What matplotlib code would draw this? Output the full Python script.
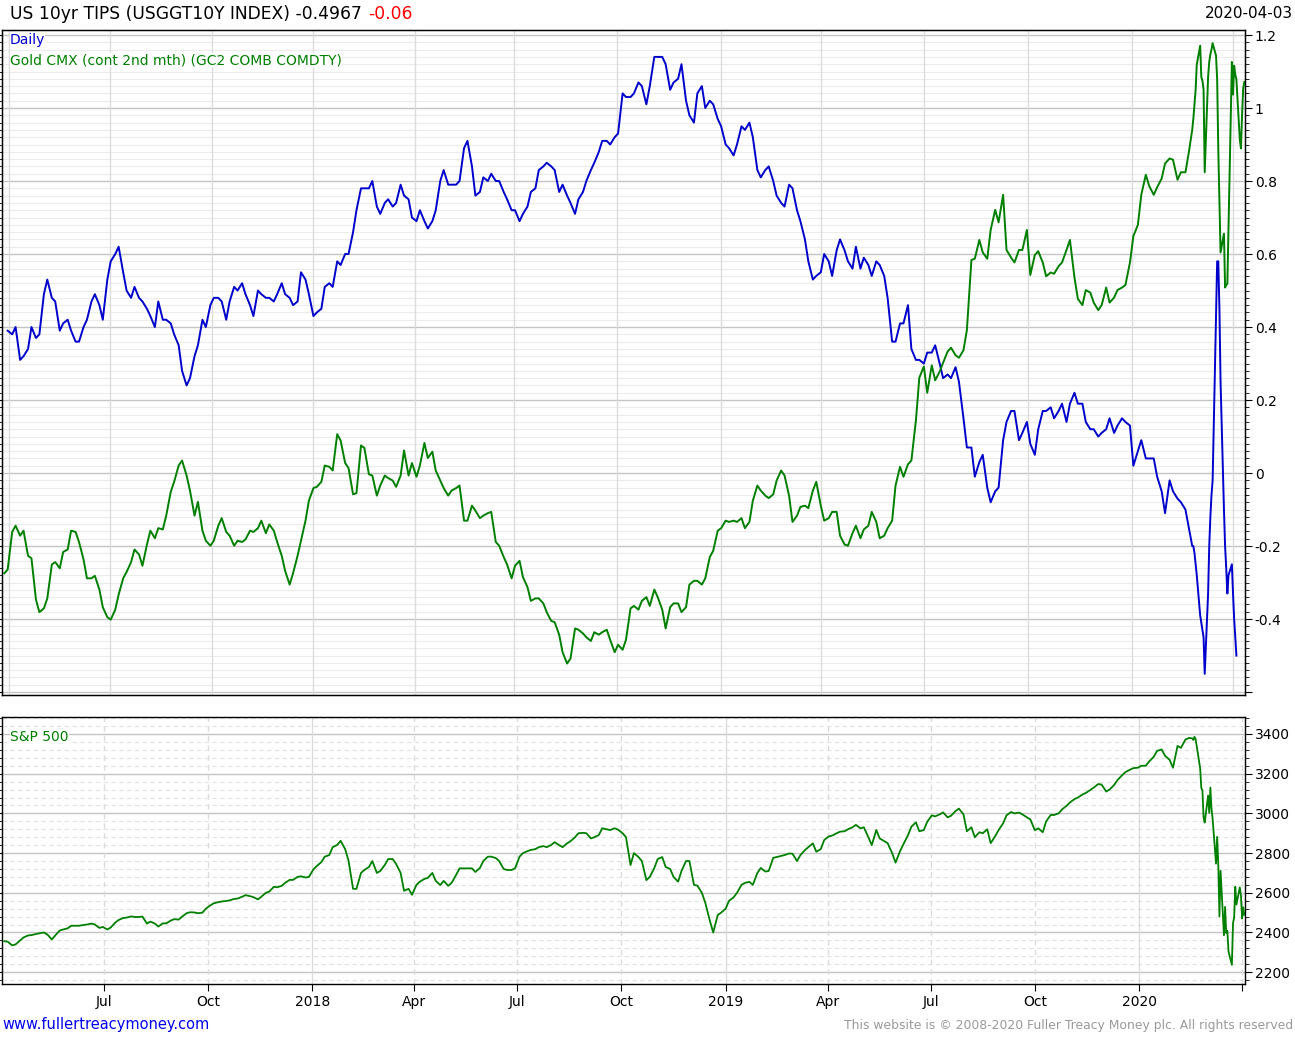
import matplotlib
matplotlib.use('Agg')
import matplotlib.pyplot as plt
import numpy as np
import pandas as pd
from matplotlib.ticker import MultipleLocator, FuncFormatter

plt.rcParams['font.family'] = ['DejaVu Sans']

# ------------------------------------------------------------
# data
# Tuesday and Friday readings up to mid Feb 2020, then daily
# ------------------------------------------------------------
tue = pd.date_range('2017-04-04', '2020-02-11', freq='W-TUE')
fri = pd.date_range('2017-04-07', '2020-02-14', freq='W-FRI')
daily = pd.bdate_range('2020-02-17', '2020-04-03')

nan = float('nan')

# US 10yr TIPS real yield (%)
tips_tue = [
    nan, 0.38, 0.31, 0.34, 0.37, 0.49, 0.48, 0.39, 0.42, 0.36,
    0.40, 0.47, 0.46, 0.53, 0.60, 0.55, 0.48, 0.48, 0.45, 0.40,
    0.42, 0.41, 0.35, 0.24, 0.32, 0.42, 0.46, 0.48, 0.42, 0.51,
    0.52, 0.46, 0.50, 0.48, 0.47, 0.52, 0.48, 0.47, 0.53, 0.43,
    0.45, 0.52, 0.58, 0.60, 0.66, 0.78, 0.78, 0.73, 0.74, 0.73,
    0.79, 0.75, 0.69, 0.69, 0.69, 0.80, 0.79, 0.79, 0.89, 0.84,
    0.77, 0.80, 0.80, 0.77, 0.72, 0.69, 0.73, 0.78, 0.84, 0.84,
    0.77, 0.76, 0.71, 0.77, 0.83, 0.88, 0.91, 0.92, 1.04, 1.03,
    1.07, 1.01, 1.14, 1.14, 1.05, 1.08, 1.02, 0.96, 1.06, 1.02,
    0.97, 0.90, 0.87, 0.95, 0.96, 0.83, 0.83, 0.80, 0.74, 0.79,
    0.72, 0.64, 0.53, 0.55, 0.58, 0.61, 0.61, 0.56, 0.56, 0.57,
    0.58, 0.54, 0.36, 0.41, 0.46, 0.31, 0.30, 0.33, 0.30, 0.27,
    0.29, 0.15, 0.07, 0.03, -0.04, -0.05, 0.09, 0.17, 0.09, 0.14,
    0.05, 0.17, 0.18, 0.17, 0.14, 0.22, 0.19, 0.12, 0.10, 0.12,
    0.11, 0.15, 0.13, 0.06, 0.04, 0.04, -0.05, -0.02, -0.07, -0.10,
]
tips_fri = [
    0.39, 0.40, 0.32, 0.40, 0.38, 0.53, 0.47, 0.41, 0.39, 0.36,
    0.42, 0.49, 0.42, 0.58, 0.62, 0.50, 0.51, 0.47, 0.43, 0.47,
    0.42, 0.38, 0.28, 0.26, 0.35, 0.40, 0.48, 0.47, 0.47, 0.50,
    0.49, 0.43, 0.49, 0.48, 0.49, 0.49, 0.46, 0.55, 0.49, 0.44,
    0.51, 0.51, 0.57, 0.60, 0.72, 0.78, 0.80, 0.71, 0.75, 0.74,
    0.76, 0.70, 0.72, 0.67, 0.72, 0.83, 0.79, 0.80, 0.91, 0.76,
    0.81, 0.82, 0.80, 0.75, 0.72, 0.71, 0.77, 0.83, 0.85, 0.83,
    0.79, 0.74, 0.75, 0.80, 0.85, 0.91, 0.90, 0.93, 1.03, 1.04,
    1.06, 1.06, 1.14, 1.12, 1.07, 1.12, 0.98, 1.04, 1.00, 1.01,
    0.95, 0.89, 0.90, 0.94, 0.92, 0.81, 0.84, 0.76, 0.73, 0.78,
    0.69, 0.58, 0.54, 0.60, 0.54, 0.64, 0.58, 0.62, 0.59, 0.54,
    0.57, 0.48, 0.36, 0.41, 0.34, 0.31, 0.33, 0.35, 0.26, 0.26,
    0.25, 0.07, -0.01, 0.05, -0.08, -0.04, 0.14, 0.17, 0.11, 0.08,
    0.12, 0.17, 0.15, 0.19, 0.19, 0.19, 0.14, 0.12, 0.11, 0.15,
    0.13, 0.14, 0.02, 0.09, 0.04, -0.01, -0.11, -0.05, -0.08, -0.15,
]
# Feb 17 - Mar 27 2020 (series stops there)
tips_daily = [
    -0.20, -0.20, -0.22, -0.25, -0.28,
    -0.39, -0.41, -0.43, -0.45, -0.55,
    -0.33, -0.20, -0.12, -0.06, -0.02,
    0.44, 0.58, 0.58, 0.45, 0.25,
    -0.10, -0.20, -0.26, -0.33, -0.28,
    -0.25, -0.33, -0.40, -0.45, -0.50,
]

# Gold CMX 2nd month (USD/oz)
gold_tue = [
    1254, 1287, 1284, 1268, 1233, 1226, 1261, 1258, 1273, 1287,
    1265, 1250, 1241, 1219, 1225, 1250, 1263, 1269, 1277, 1282,
    1289, 1319, 1340, 1332, 1300, 1288, 1276, 1292, 1287, 1276,
    1279, 1288, 1290, 1286, 1288, 1268, 1245, 1268, 1296, 1322,
    1327, 1339, 1365, 1342, 1317, 1356, 1333, 1316, 1332, 1328,
    1332, 1332, 1331, 1358, 1351, 1328, 1316, 1322, 1296, 1308,
    1298, 1302, 1279, 1267, 1250, 1264, 1243, 1234, 1230, 1216,
    1205, 1182, 1210, 1206, 1200, 1205, 1209, 1191, 1193, 1226,
    1225, 1235, 1241, 1225, 1227, 1230, 1227, 1248, 1245, 1267,
    1288, 1296, 1296, 1298, 1295, 1324, 1316, 1317, 1336, 1316,
    1300, 1308, 1320, 1308, 1298, 1303, 1277, 1286, 1282, 1292,
    1295, 1284, 1296, 1339, 1341, 1376, 1419, 1420, 1415, 1431,
    1428, 1432, 1504, 1520, 1505, 1544, 1556, 1506, 1512, 1528,
    1508, 1502, 1494, 1499, 1512, 1490, 1468, 1478, 1464, 1482,
    1474, 1482, 1502, 1532, 1572, 1556, 1569, 1585, 1568, 1574,
]
gold_fri = [
    1257, 1292, 1288, 1266, 1223, 1234, 1263, 1271, 1288, 1279,
    1250, 1252, 1227, 1217, 1237, 1255, 1273, 1260, 1288, 1290,
    1300, 1327, 1344, 1320, 1311, 1280, 1280, 1298, 1284, 1280,
    1281, 1287, 1296, 1293, 1279, 1256, 1254, 1280, 1312, 1323,
    1340, 1336, 1360, 1338, 1318, 1354, 1332, 1324, 1330, 1323,
    1352, 1342, 1340, 1346, 1336, 1322, 1320, 1324, 1296, 1304,
    1300, 1303, 1276, 1261, 1260, 1251, 1232, 1234, 1223, 1215,
    1191, 1186, 1209, 1203, 1207, 1207, 1201, 1197, 1201, 1228,
    1232, 1228, 1235, 1210, 1230, 1223, 1245, 1248, 1250, 1272,
    1290, 1295, 1295, 1290, 1312, 1320, 1314, 1328, 1332, 1295,
    1307, 1306, 1327, 1296, 1303, 1284, 1276, 1292, 1289, 1303,
    1282, 1290, 1324, 1331, 1344, 1410, 1398, 1408, 1422, 1434,
    1426, 1448, 1505, 1510, 1528, 1534, 1512, 1502, 1512, 1492,
    1511, 1491, 1493, 1502, 1520, 1473, 1480, 1470, 1468, 1470,
    1480, 1484, 1523, 1556, 1563, 1562, 1581, 1584, 1574, 1590,
]
gold_daily = [
    1608, 1617, 1628, 1640, 1660,
    1675, 1650, 1647, 1640, 1574,
    1650, 1662, 1668, 1672, 1677,
    1667, 1648, 1592, 1552, 1510,
    1525, 1482, 1484, 1485, 1530,
    1662, 1636, 1659, 1652, 1648,
    1600, 1593, 1620, 1641, 1646,
]

# S&P 500
spx_tue = [
    2356, 2335, 2360, 2385, 2392, 2400, 2365, 2410, 2421, 2434,
    2438, 2445, 2423, 2415, 2450, 2473, 2481, 2478, 2445, 2445,
    2446, 2460, 2465, 2497, 2501, 2500, 2537, 2553, 2559, 2569,
    2580, 2583, 2567, 2600, 2630, 2635, 2665, 2680, 2677, 2718,
    2755, 2790, 2841, 2820, 2620, 2700, 2730, 2700, 2740, 2770,
    2700, 2620, 2640, 2670, 2700, 2639, 2635, 2690, 2723, 2723,
    2725, 2782, 2775, 2720, 2715, 2782, 2810, 2820, 2835, 2841,
    2840, 2849, 2880, 2902, 2874, 2891, 2920, 2925, 2900, 2740,
    2780, 2664, 2725, 2780, 2720, 2656, 2760, 2640, 2600, 2460,
    2488, 2520, 2577, 2640, 2655, 2700, 2707, 2776, 2786, 2798,
    2760, 2815, 2849, 2820, 2884, 2900, 2910, 2930, 2925, 2880,
    2916, 2860, 2800, 2810, 2890, 2955, 2916, 2990, 2995, 2980,
    3012, 2995, 2930, 2905, 2920, 2885, 2950, 3007, 3004, 2980,
    2915, 2905, 2992, 3000, 3038, 3072, 3095, 3118, 3148, 3110,
    3143, 3192, 3220, 3230, 3240, 3285, 3322, 3270, 3340, 3372,
]
spx_fri = [
    2354, 2340, 2375, 2387, 2396, 2390, 2385, 2415, 2434, 2434,
    2440, 2440, 2428, 2425, 2463, 2475, 2478, 2480, 2455, 2430,
    2446, 2467, 2480, 2502, 2497, 2520, 2547, 2556, 2562, 2571,
    2588, 2578, 2580, 2606, 2628, 2650, 2665, 2683, 2680, 2735,
    2782, 2830, 2862, 2762, 2620, 2715, 2760, 2710, 2770, 2745,
    2610, 2590, 2656, 2675, 2660, 2660, 2650, 2723, 2723, 2705,
    2760, 2782, 2760, 2715, 2723, 2800, 2816, 2830, 2830, 2855,
    2830, 2860, 2900, 2900, 2880, 2925, 2916, 2918, 2880, 2800,
    2760, 2680, 2770, 2730, 2680, 2710, 2760, 2636, 2550, 2400,
    2500, 2560, 2600, 2650, 2640, 2725, 2710, 2780, 2790, 2797,
    2790, 2830, 2807, 2866, 2888, 2908, 2920, 2942, 2930, 2840,
    2874, 2850, 2752, 2845, 2933, 2910, 2958, 2985, 3005, 2988,
    3024, 2910, 2880, 2900, 2850, 2916, 2990, 3000, 2995, 2970,
    2925, 2960, 2992, 3020, 3055, 3080, 3103, 3130, 3145, 3120,
    3168, 3208, 3228, 3240, 3262, 3315, 3290, 3230, 3330, 3380,
]
spx_daily = [
    3378, 3370, 3386, 3373, 3338,
    3226, 3128, 3116, 2979, 2954,
    3090, 3003, 3130, 3023, 2972,
    2747, 2882, 2741, 2481, 2711,
    2386, 2529, 2398, 2409, 2305,
    2237, 2447, 2476, 2630, 2541,
    2627, 2585, 2471, 2527, 2489,
]

quarter_ticks = pd.date_range('2017-04-01', '2020-04-01', freq='QS-JAN')
quarter_labels = ['', 'Jul', 'Oct', '2018', 'Apr', 'Jul', 'Oct', '2019',
                  'Apr', 'Jul', 'Oct', '2020', '']
top_vgrid = pd.to_datetime([
    '2017-04-08', '2017-07-06', '2017-10-04', '2018-01-02', '2018-04-02',
    '2018-06-28', '2018-09-27', '2018-12-28', '2019-03-26', '2019-06-25',
    '2019-09-25', '2019-12-26', '2020-03-24'])


def series(v_tue, v_fri, v_daily):
    s = pd.concat([pd.Series(v_tue, index=tue),
                   pd.Series(v_fri, index=fri),
                   pd.Series(v_daily, index=daily[:len(v_daily)])])
    return s.sort_index().dropna()


tips = series(tips_tue, tips_fri, tips_daily)
gold = series(gold_tue, gold_fri, gold_daily)
spx = series(spx_tue, spx_fri, spx_daily)

BLUE = '#0000CC'
GREEN = '#008000'
MAJ = '#c4c4c4'
MIN = '#ececec'

W, H = 1295, 1040


def box(x0, y0, x1, y1):
    return [x0 / W, 1 - y1 / H, (x1 - x0) / W, (y1 - y0) / H]


fig = plt.figure(figsize=(W / 100, H / 100), dpi=100)
ax = fig.add_axes(box(2, 30, 1245, 695))
ax2 = fig.add_axes(box(2, 717, 1245, 984), sharex=ax)
axg = ax.twinx()

x0, x1 = pd.Timestamp('2017-04-02'), pd.Timestamp('2020-04-03 14:00')

# ---------------- top panel ----------------
ax.set_axisbelow(True)
ax.plot(tips.index, tips.values, color=BLUE, lw=1.4, zorder=3)
axg.plot(gold.index, gold.values, color=GREEN, lw=1.4)
ax.set_ylim(-0.608, 1.2137)
axg.set_ylim(1156.9, 1687.5)
axg.yaxis.set_visible(False)


def tips_fmt(v, pos):
    v = round(v, 2) + 0
    return '' if v < -0.5 else f'{v:g}'


ax.yaxis.set_major_locator(MultipleLocator(0.2))
ax.yaxis.set_minor_locator(MultipleLocator(0.02))
ax.yaxis.set_major_formatter(FuncFormatter(tips_fmt))
ax.tick_params(axis='y', which='both', left=True, right=True,
               labelleft=False, labelright=True, direction='out',
               labelsize=10, pad=2)
ax.tick_params(axis='y', which='major', length=5)
ax.tick_params(axis='y', which='minor', length=3)
ax.tick_params(axis='x', which='both', bottom=False, labelbottom=False)
ax.grid(which='major', axis='y', color=MAJ, lw=1.0)
ax.grid(which='minor', axis='y', color=MIN, lw=0.8)
for d in top_vgrid:
    ax.axvline(d, color='#dcdcdc', lw=1.0, zorder=1)

ax.text(8 / 1243, 1 - 10 / 665, 'Daily', transform=ax.transAxes,
        color=BLUE, fontsize=10, va='center', ha='left',
        bbox=dict(facecolor='white', edgecolor='none', pad=0), zorder=5)
ax.text(8 / 1243, 1 - 30 / 665, 'Gold CMX (cont 2nd mth) (GC2 COMB COMDTY)',
        transform=ax.transAxes, color=GREEN, fontsize=10, va='center',
        ha='left', bbox=dict(facecolor='white', edgecolor='none', pad=0),
        zorder=5)

# ---------------- bottom panel ----------------
ax2.set_axisbelow(True)
ax2.plot(spx.index, spx.values, color=GREEN, lw=1.3, zorder=3)
ax2.set_ylim(2140.5, 3485.6)
ax2.yaxis.set_major_locator(MultipleLocator(200))
ax2.yaxis.set_minor_locator(MultipleLocator(40))
ax2.tick_params(axis='y', which='both', left=True, right=True,
                labelleft=False, labelright=True, direction='out',
                labelsize=10, pad=2)
ax2.tick_params(axis='y', which='major', length=5)
ax2.tick_params(axis='y', which='minor', length=3)
ax2.grid(which='major', axis='y', color=MAJ, lw=1.0)
ax2.grid(which='minor', axis='y', color='#e2e2e2', lw=0.8, ls=(0, (4, 3)))
for d in quarter_ticks:
    if d.month == 1:
        ax2.axvline(d, color='#dcdcdc', lw=1.0, zorder=1)
    else:
        ax2.axvline(d, color='#dcdcdc', lw=1.0, ls=(0, (4, 3)), zorder=1)

ax2.set_xticks(quarter_ticks)
ax2.set_xticklabels(quarter_labels)
ax2.tick_params(axis='x', direction='out', length=5, labelsize=10, pad=3)
ax2.set_xlim(x0, x1)

ax2.text(8 / 1243, 1 - 20 / 267, 'S&P 500', transform=ax2.transAxes,
         color=GREEN, fontsize=10, va='center', ha='left',
         bbox=dict(facecolor='white', edgecolor='none', pad=0), zorder=5)

for a in (ax, ax2):
    for s in a.spines.values():
        s.set_color('black')
        s.set_linewidth(1.0)

# ---------------- header / footer ----------------
title = fig.text(10 / W, 1 - 14 / H, 'US 10yr TIPS (USGGT10Y INDEX) -0.4967',
                 fontsize=12.3, va='center', ha='left', color='black')
fig.canvas.draw()
bb = title.get_window_extent()
fig.text((bb.x1 + 6) / W, 1 - 14 / H, '-0.06', fontsize=12.3, va='center',
         ha='left', color='#ff0000')
fig.text(1293 / W, 1 - 14 / H, '2020-04-03', fontsize=11, va='center',
         ha='right')
fig.text(2 / W, 1 - 1025 / H, 'www.fullertreacymoney.com', fontsize=10.5,
         va='center', ha='left', color='#0000EE')
fig.text(1293 / W, 1 - 1025 / H,
         'This website is \u00a9 2008-2020 Fuller Treacy Money plc. All rights reserved',
         fontsize=8.9, va='center', ha='right', color='#9a9a9a')

fig.savefig('out.png', dpi=100)
